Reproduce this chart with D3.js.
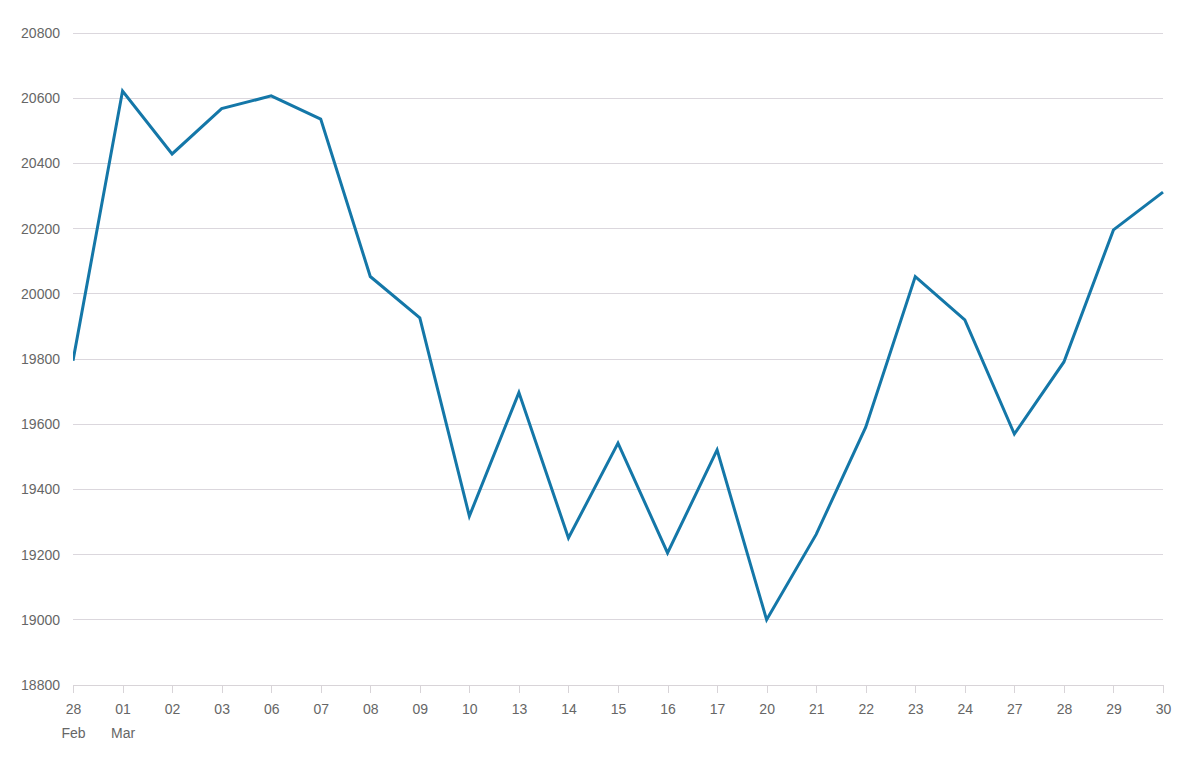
<!DOCTYPE html>
<html><head><meta charset="utf-8">
<script src="https://cdn.jsdelivr.net/npm/d3@7"></script>
<style>
html,body{margin:0;padding:0;background:#fff;}
svg{display:block;font-family:"Liberation Sans",Arial,Helvetica,sans-serif;}
</style></head>
<body>
<svg id="chart" width="1198" height="767"></svg>
<script>
const days = ["28","01","02","03","06","07","08","09","10","13","14","15","16","17","20","21","22","23","24","27","28","29","30"];
const months = ["Feb","Mar","","","","","","","","","","","","","","","","","","","","",""];
const values = [19795,20622,20429,20568,20607,20536,20053,19926,19318,19697,19251,19542,19205,19521,19000,19262,19591,20053,19920,19570,19791,20196,20312];
const yTicks = [18800,19000,19200,19400,19600,19800,20000,20200,20400,20600,20800];

const svg = d3.select("#chart");
const m = {left:73, right:35, top:33, bottom:82};
const W = 1198, H = 767;
const idx = d3.range(days.length);
const x = d3.scalePoint().domain(idx).range([m.left, W - m.right]);
const y = d3.scaleLinear().domain([18800,20800]).range([H - m.bottom, m.top]);

// gridlines
svg.append("g").selectAll("line").data(yTicks.slice(1)).join("line")
  .attr("x1", m.left).attr("x2", W - m.right)
  .attr("y1", d => y(d)).attr("y2", d => y(d))
  .attr("stroke", "#dbd7dd").attr("stroke-width", 1).attr("shape-rendering","crispEdges");

// y labels
svg.append("g").selectAll("text").data(yTicks).join("text")
  .attr("x", 60).attr("y", d => y(d)).attr("dy", "0.35em")
  .attr("text-anchor", "end").attr("font-size", 14).attr("fill", "#666666")
  .text(d => d);

// x axis
const xAxis = d3.axisBottom(x).tickSize(8).tickFormat(i => days[i]);
const gx = svg.append("g").attr("transform", `translate(0,${H - m.bottom})`).call(xAxis);
gx.select(".domain").attr("stroke", "#d8d4d8").attr("shape-rendering","crispEdges");
gx.selectAll(".tick line").attr("stroke", "#d8d4d8").attr("shape-rendering","crispEdges");
gx.selectAll(".tick text").attr("font-size", 14).attr("fill", "#666666")
  .attr("font-family", "Liberation Sans, Arial, sans-serif").attr("y", 19);
gx.selectAll(".tick").filter(i => months[i]).append("text")
  .attr("y", 43).attr("dy", "0.71em").attr("text-anchor","middle")
  .attr("font-size", 14).attr("fill", "#666666").text(i => months[i]);

// clip
svg.append("clipPath").attr("id","clip").append("rect")
  .attr("x", m.left).attr("y", 0).attr("width", W - m.left - m.right + 2).attr("height", H - m.bottom);

const line = d3.line().x((d,i) => x(i)).y(d => y(d));
svg.append("path").datum(values)
  .attr("clip-path","url(#clip)")
  .attr("d", line).attr("fill","none")
  .attr("stroke", "#1477a8").attr("stroke-width", 3)
  .attr("stroke-linejoin","miter").attr("stroke-linecap","butt");
</script>
</body></html>
